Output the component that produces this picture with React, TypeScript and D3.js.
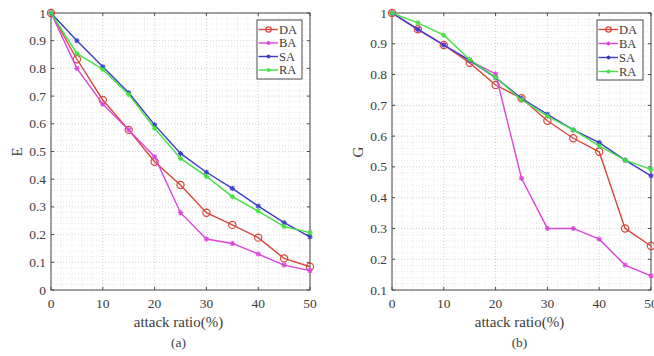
import React from 'react';
import * as d3 from 'd3';

// attack ratio (%)
const ratios = [0, 5, 10, 15, 20, 25, 30, 35, 40, 45, 50];

// (a) efficiency E
const eDA = [1, 0.833, 0.686, 0.578, 0.463, 0.379, 0.279, 0.235, 0.189, 0.114, 0.084];
const eBA = [1, 0.8, 0.671, 0.578, 0.481, 0.279, 0.184, 0.168, 0.13, 0.09, 0.07];
const eSA = [1, 0.9, 0.806, 0.712, 0.596, 0.493, 0.425, 0.367, 0.303, 0.243, 0.192];
const eRA = [1, 0.854, 0.796, 0.706, 0.584, 0.475, 0.41, 0.337, 0.285, 0.229, 0.207];

// (b) giant component G
const gDA = [1, 0.947, 0.896, 0.838, 0.766, 0.723, 0.65, 0.593, 0.549, 0.3, 0.243];
const gBA = [1, 0.947, 0.896, 0.845, 0.802, 0.463, 0.3, 0.3, 0.265, 0.181, 0.146];
const gSA = [1, 0.947, 0.896, 0.846, 0.79, 0.723, 0.671, 0.62, 0.579, 0.522, 0.471];
const gRA = [1, 0.968, 0.928, 0.849, 0.791, 0.718, 0.665, 0.62, 0.568, 0.522, 0.492];

const seriesNames = ['DA', 'BA', 'SA', 'RA'];
const colors: Record<string, string> = {
  DA: '#d8473c',
  BA: '#dd44dd',
  SA: '#3b3bcc',
  RA: '#44e044',
};

const FONT = "'Liberation Serif', 'DejaVu Serif', serif";

function Marker({ name, x, y, color, k = 1 }: { name: string; x: number; y: number; color: string; k?: number }) {
  if (name === 'DA') {
    return <circle cx={x} cy={y} r={3.6 * k} fill="none" stroke={color} strokeWidth={1.2} />;
  }
  const s = 2.6 * k;
  const d = 1.9 * k;
  return (
    <g stroke={color} strokeWidth={1.1}>
      <line x1={x - s} x2={x + s} y1={y} y2={y} />
      <line x1={x} x2={x} y1={y - s} y2={y + s} />
      <line x1={x - d} x2={x + d} y1={y - d} y2={y + d} />
      <line x1={x - d} x2={x + d} y1={y + d} y2={y - d} />
    </g>
  );
}

interface PanelProps {
  x0: number;
  x1: number;
  yMin: number;
  series: Record<string, number[]>;
  yLabel: string;
  caption: string;
  legend: { x: number; y: number; w: number; h: number; step: number };
}

function Panel({ x0, x1, yMin, series, yLabel, caption, legend }: PanelProps) {
  const top = 13;
  const bottom = 290;
  const xScale = d3.scaleLinear().domain([0, 50]).range([x0, x1]);
  const yScale = d3.scaleLinear().domain([yMin, 1]).range([bottom, top]);

  const xTicks = d3.range(0, 51, 10);
  const yTicks = d3.range(Math.round(yMin * 10), 11).map((v) => v / 10);
  const xMinor = d3.range(0, 51, 2).filter((v) => v % 10 !== 0);
  const yMinor = d3
    .range(Math.round(yMin * 50), 51)
    .map((v) => v / 50)
    .filter((v) => Math.abs(v * 10 - Math.round(v * 10)) > 1e-6);

  const line = d3
    .line<number>()
    .x((_, i) => xScale(ratios[i]))
    .y((d) => yScale(d));

  const tk = 3;
  const cx = (x0 + x1) / 2 - 2;

  return (
    <g fontFamily={FONT}>
      {/* minor grid */}
      {xMinor.map((v) => (
        <line key={'xm' + v} x1={xScale(v)} x2={xScale(v)} y1={top} y2={bottom}
          stroke="#e2e2e2" strokeWidth={0.8} strokeDasharray="1,2" />
      ))}
      {yMinor.map((v) => (
        <line key={'ym' + v} x1={x0} x2={x1} y1={yScale(v)} y2={yScale(v)}
          stroke="#e2e2e2" strokeWidth={0.8} strokeDasharray="1,2" />
      ))}
      {/* major grid */}
      {xTicks.map((v) => (
        <line key={'xg' + v} x1={xScale(v)} x2={xScale(v)} y1={top} y2={bottom}
          stroke="#c4c4c4" strokeWidth={0.8} strokeDasharray="1,2" />
      ))}
      {yTicks.map((v) => (
        <line key={'yg' + v} x1={x0} x2={x1} y1={yScale(v)} y2={yScale(v)}
          stroke="#c4c4c4" strokeWidth={0.8} strokeDasharray="1,2" />
      ))}

      {/* box + ticks */}
      <rect x={x0} y={top} width={x1 - x0} height={bottom - top} fill="none" stroke="#4a4a4a" strokeWidth={1} />
      {xTicks.map((v) => (
        <g key={'xt' + v} stroke="#4a4a4a" strokeWidth={1}>
          <line x1={xScale(v)} x2={xScale(v)} y1={bottom} y2={bottom - tk} />
          <line x1={xScale(v)} x2={xScale(v)} y1={top} y2={top + tk} />
        </g>
      ))}
      {yTicks.map((v) => (
        <g key={'yt' + v} stroke="#4a4a4a" strokeWidth={1}>
          <line x1={x0} x2={x0 + tk} y1={yScale(v)} y2={yScale(v)} />
          <line x1={x1} x2={x1 - tk} y1={yScale(v)} y2={yScale(v)} />
        </g>
      ))}

      {/* tick labels */}
      {xTicks.map((v) => (
        <text key={'xl' + v} x={xScale(v)} y={308} textAnchor="middle" fontSize={13.5}
          fill="#3c3c3c">{v}</text>
      ))}
      {yTicks.map((v) => (
        <text key={'yl' + v} x={x0 - 5} y={yScale(v) + 4.5} textAnchor="end" fontSize={13.5}
          fill="#3c3c3c">{String(v)}</text>
      ))}

      {/* axis labels */}
      <text x={cx} y={327} textAnchor="middle" fontSize={15} fill="#3c3c3c">
        attack ratio(%)
      </text>
      <text x={cx} y={347} textAnchor="middle" fontSize={13.5} fill="#3c3c3c">
        {caption}
      </text>
      <text transform={`translate(${x0 - 29},${152}) rotate(-90)`} textAnchor="middle" fontSize={15}
        fill="#3c3c3c">{yLabel}</text>

      {/* series */}
      {seriesNames.map((name) => (
        <g key={name}>
          <path d={line(series[name]) || ''} fill="none" stroke={colors[name]} strokeWidth={1.4} />
          {series[name].map((v, i) => (
            <Marker key={i} name={name} x={xScale(ratios[i])} y={yScale(v)} color={colors[name]} />
          ))}
        </g>
      ))}

      {/* legend */}
      <rect x={legend.x} y={legend.y} width={legend.w} height={legend.h} fill="#fff" stroke="#4a4a4a" strokeWidth={1} />
      {seriesNames.map((name, i) => {
        const ly = legend.y + 9.5 + i * legend.step;
        return (
          <g key={'lg' + name}>
            <line x1={legend.x + 1.5} x2={legend.x + 21} y1={ly} y2={ly} stroke={colors[name]} strokeWidth={1.4} />
            <Marker name={name} x={legend.x + 11.5} y={ly} color={colors[name]} k={0.75} />
            <text x={legend.x + 22} y={ly + 4.3} fontSize={12.5} fill="#3c3c3c">{name}</text>
          </g>
        );
      })}
    </g>
  );
}

export default function App() {
  return (
    <svg width={654} height={356} style={{ position: 'absolute', left: 0, top: 0, background: '#fff' }}>
      <rect width={654} height={356} fill="#fff" />
      <Panel
        x0={51}
        x1={310}
        yMin={0}
        series={{ DA: eDA, BA: eBA, SA: eSA, RA: eRA }}
        yLabel="E"
        caption="(a)"
        legend={{ x: 257, y: 20, w: 45, h: 59, step: 13.5 }}
      />
      <Panel
        x0={392}
        x1={651}
        yMin={0.1}
        series={{ DA: gDA, BA: gBA, SA: gSA, RA: gRA }}
        yLabel="G"
        caption="(b)"
        legend={{ x: 597, y: 20, w: 46, h: 60, step: 14 }}
      />
    </svg>
  );
}
